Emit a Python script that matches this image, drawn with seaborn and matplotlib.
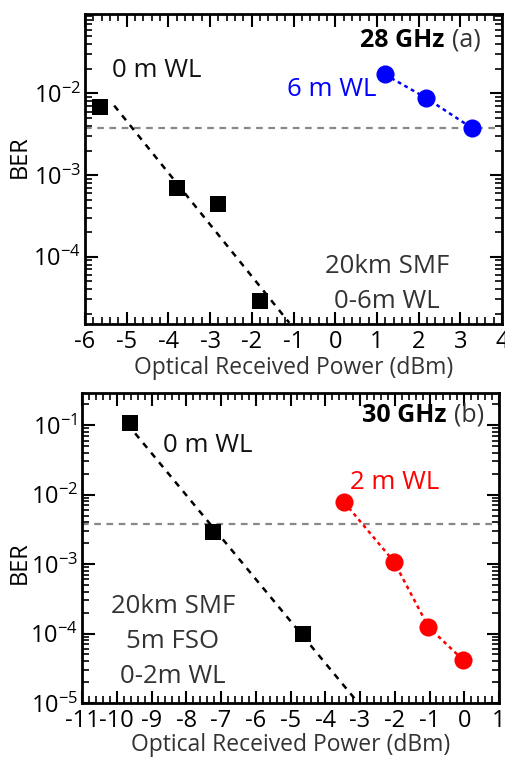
import numpy as np
import pandas as pd
import matplotlib
matplotlib.use("Agg")
import matplotlib.pyplot as plt
import matplotlib.ticker as mticker
import seaborn as sns

# ---- data: panel (a) 28 GHz ----
a_wl0_x = [-5.64, -3.80, -2.80, -1.80]
a_wl0_y = [6.8e-3, 7.0e-4, 4.4e-4, 2.9e-5]
a_fit_x = [-5.30, -1.10]
a_fit_y = [7.1e-3, 1.55e-5]
a_wl6_x = [1.19, 2.18, 3.27]
a_wl6_y = [1.71e-2, 8.8e-3, 3.8e-3]

# ---- data: panel (b) 30 GHz ----
b_wl0_x = [-9.62, -7.24, -4.63]
b_wl0_y = [0.108, 2.9e-3, 1.0e-4]
b_fit_x = [-9.47, -3.05]
b_fit_y = [7.6e-2, 1.0e-5]
b_wl2_x = [-3.46, -2.02, -1.03, -0.04]
b_wl2_y = [7.8e-3, 1.08e-3, 1.24e-4, 4.2e-5]

fec_threshold = 3.8e-3

a_xticks = [-6, -5, -4, -3, -2, -1, 0, 1, 2, 3, 4]
a_yticks = [1e-2, 1e-3, 1e-4]
a_ytick_labels = [r'$10^{-2}$', r'$10^{-3}$', r'$10^{-4}$']
b_xticks = [-11, -10, -9, -8, -7, -6, -5, -4, -3, -2, -1, 0, 1]
b_yticks = [1e-1, 1e-2, 1e-3, 1e-4, 1e-5]
b_ytick_labels = [r'$10^{-1}$', r'$10^{-2}$', r'$10^{-3}$', r'$10^{-4}$', r'$10^{-5}$']

sns.set_style("ticks")
FONT = "Open Sans"
plt.rcParams['font.family'] = [FONT, 'DejaVu Sans']
plt.rcParams['mathtext.fontset'] = 'custom'
plt.rcParams['mathtext.rm'] = FONT
plt.rcParams['mathtext.it'] = FONT
plt.rcParams['mathtext.default'] = 'regular'

fig = plt.figure(figsize=(5.05, 7.58), dpi=100)
ax1 = fig.add_axes([85/505, 1-324/758, 417/505, 310/758])
ax2 = fig.add_axes([82/505, 1-703/758, 417/505, 310/758])

TXT = '#333333'
ANN = 18.5

def style_axes(ax, xlim, ylim, xticks, yticks, ylabels, xpad, lpad):
    ax.set_yscale('log')
    ax.set_xlim(*xlim)
    ax.set_ylim(*ylim)
    ax.set_xticks(xticks)
    ax.set_xticklabels([str(t) for t in xticks])
    ax.xaxis.set_minor_locator(mticker.AutoMinorLocator(5))
    ax.set_yticks(yticks)
    ax.set_yticklabels(ylabels)
    ax.yaxis.set_minor_locator(mticker.LogLocator(base=10, subs=np.arange(2, 10), numticks=20))
    ax.yaxis.set_minor_formatter(mticker.NullFormatter())
    ax.tick_params(which='both', direction='in', top=True, right=True, colors='black',
                   labelcolor='black', labelsize=17, pad=3)
    ax.tick_params(axis='x', which='major', pad=xpad)
    ax.tick_params(which='major', length=9, width=1.5)
    ax.tick_params(which='minor', length=5, width=1.2)
    for s in ax.spines.values():
        s.set_linewidth(2)
        s.set_color('black')
    ax.set_xlabel('Optical Received Power (dBm)', fontsize=16.5, color=TXT, labelpad=lpad)
    ax.set_ylabel('BER', fontsize=17, color='black')

# ---------- panel (a) ----------
ax = ax1
ax.axhline(fec_threshold, color='#888888', lw=1.6, ls=(0, (3, 2.5)), zorder=1)
sns.lineplot(x=a_fit_x, y=a_fit_y, ax=ax, color='black', lw=1.8,
             linestyle=(0, (2.5, 2.5)), zorder=2)
sns.scatterplot(x=a_wl0_x, y=a_wl0_y, ax=ax, marker='s', s=140, color='black',
                edgecolor='black', linewidth=0, zorder=3)
sns.lineplot(x=a_wl6_x, y=a_wl6_y, ax=ax, color='#0000ff', lw=1.8,
             linestyle=(0, (1.5, 1.5)), zorder=2)
sns.scatterplot(x=a_wl6_x, y=a_wl6_y, ax=ax, marker='o', s=170, color='#0000ff',
                edgecolor='#0000ff', linewidth=0, zorder=3)
style_axes(ax, (-6, 4), (1.5e-5, 0.094), a_xticks, a_yticks, a_ytick_labels, 4, 2)
ax.yaxis.set_label_coords(-0.127, 0.539)
ax.text(0.863, 0.916, '28 GHz', transform=ax.transAxes, ha='right', va='center',
        fontsize=18, fontweight='bold', color='black')
ax.text(0.881, 0.916, '(a)', transform=ax.transAxes, ha='left', va='center',
        fontsize=18, color=TXT)
ax.text(0.173, 0.819, '0 m WL', transform=ax.transAxes, ha='center', va='center',
        fontsize=ANN, color='#111111')
ax.text(0.592, 0.755, '6 m WL', transform=ax.transAxes, ha='center', va='center',
        fontsize=ANN, color='#0000ff')
ax.text(0.724, 0.184, '20km SMF', transform=ax.transAxes, ha='center', va='center',
        fontsize=ANN, color=TXT)
ax.text(0.724, 0.071, '0-6m WL', transform=ax.transAxes, ha='center', va='center',
        fontsize=ANN, color=TXT)

# ---------- panel (b) ----------
ax = ax2
ax.axhline(fec_threshold, color='#888888', lw=1.6, ls=(0, (3, 2.5)), zorder=1)
sns.lineplot(x=b_fit_x, y=b_fit_y, ax=ax, color='black', lw=1.8,
             linestyle=(0, (2.5, 2.5)), zorder=2)
sns.scatterplot(x=b_wl0_x, y=b_wl0_y, ax=ax, marker='s', s=140, color='black',
                edgecolor='black', linewidth=0, zorder=3)
sns.lineplot(x=b_wl2_x, y=b_wl2_y, ax=ax, color='#ff0000', lw=1.8,
             linestyle=(0, (1.5, 1.5)), zorder=2)
sns.scatterplot(x=b_wl2_x, y=b_wl2_y, ax=ax, marker='o', s=170, color='#ff0000',
                edgecolor='#ff0000', linewidth=0, zorder=3)
style_axes(ax, (-11, 1), (1e-5, 0.29), b_xticks, b_yticks, b_ytick_labels, 4, 0)
ax.yaxis.set_label_coords(-0.12, 0.452)
ax.text(0.875, 0.929, '30 GHz', transform=ax.transAxes, ha='right', va='center',
        fontsize=18, fontweight='bold', color='black')
ax.text(0.893, 0.929, '(b)', transform=ax.transAxes, ha='left', va='center',
        fontsize=18, color=TXT)
ax.text(0.302, 0.832, '0 m WL', transform=ax.transAxes, ha='center', va='center',
        fontsize=ANN, color='#111111')
ax.text(0.751, 0.71, '2 m WL', transform=ax.transAxes, ha='center', va='center',
        fontsize=ANN, color='#ff0000')
ax.text(0.218, 0.31, '20km SMF', transform=ax.transAxes, ha='center', va='center',
        fontsize=ANN, color=TXT)
ax.text(0.218, 0.197, '5m FSO', transform=ax.transAxes, ha='center', va='center',
        fontsize=ANN, color=TXT)
ax.text(0.218, 0.084, '0-2m WL', transform=ax.transAxes, ha='center', va='center',
        fontsize=ANN, color=TXT)

fig.savefig('out.png', dpi=100)
